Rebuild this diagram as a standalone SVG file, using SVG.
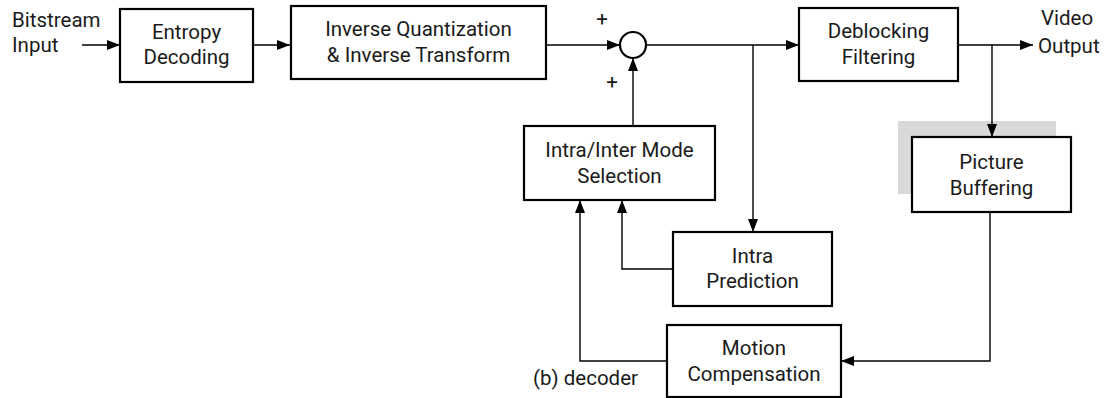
<svg xmlns="http://www.w3.org/2000/svg" width="1107" height="398" viewBox="0 0 1107 398">
  <style>
    .box { fill: #ffffff; stroke: #000000; stroke-width: 2.2; }
    .wire { fill: none; stroke: #000000; stroke-width: 1.4; }
    .lbl { font-family: Roboto, "Liberation Sans", sans-serif; font-size: 20.5px; fill: #1a1a1a; }
    .mid { text-anchor: middle; }
  </style>
  <defs>
    <marker id="arrow" viewBox="0 0 13 10" refX="13" refY="5" markerWidth="13" markerHeight="10" markerUnits="userSpaceOnUse" orient="auto">
      <path d="M0,0 L13,5 L0,10 Z" fill="#000000"/>
    </marker>
  </defs>

  <rect x="0" y="0" width="1107" height="398" fill="#ffffff"/>

  <!-- shaded backdrop behind the buffer block -->
  <rect x="898" y="121" width="158" height="73" fill="#d9d9d9"/>

  <g id="connectors">
    <line class="wire" x1="82" y1="45" x2="120" y2="45" marker-end="url(#arrow)"/>
    <line class="wire" x1="253" y1="45" x2="290" y2="45" marker-end="url(#arrow)"/>
    <line class="wire" x1="546" y1="45" x2="620" y2="45" marker-end="url(#arrow)"/>
    <line class="wire" x1="646" y1="45" x2="799" y2="45" marker-end="url(#arrow)"/>
    <line class="wire" x1="753" y1="45" x2="753" y2="232" marker-end="url(#arrow)"/>
    <line class="wire" x1="633" y1="126" x2="633" y2="58" marker-end="url(#arrow)"/>
    <polyline class="wire" points="673,269 622,269 622,200" marker-end="url(#arrow)"/>
    <polyline class="wire" points="667,361 580,361 580,200" marker-end="url(#arrow)"/>
    <line class="wire" x1="958" y1="45" x2="1033" y2="45" marker-end="url(#arrow)"/>
    <line class="wire" x1="992" y1="45" x2="992" y2="137" marker-end="url(#arrow)"/>
    <polyline class="wire" points="990,212 990,361 841,361" marker-end="url(#arrow)"/>
  </g>

  <g id="input-label">
    <text class="lbl" x="12" y="27">Bitstream</text>
    <text class="lbl" x="12" y="52">Input</text>
  </g>

  <g id="entropy-decoding">
    <rect class="box" x="120" y="9" width="133" height="73"/>
    <text class="lbl mid" x="186.5" y="39">Entropy</text>
    <text class="lbl mid" x="186.5" y="64">Decoding</text>
  </g>

  <g id="inverse-quant-transform">
    <rect class="box" x="291" y="6" width="255" height="73"/>
    <text class="lbl mid" x="418.5" y="36">Inverse Quantization</text>
    <text class="lbl mid" x="418.5" y="62">&amp; Inverse Transform</text>
  </g>

  <g id="summer">
    <circle class="box" cx="633" cy="45" r="13"/>
    <text class="lbl mid" x="602" y="26">+</text>
    <text class="lbl mid" x="612" y="89">+</text>
  </g>

  <g id="deblocking-filtering">
    <rect class="box" x="799" y="8" width="159" height="73"/>
    <text class="lbl mid" x="878.5" y="38">Deblocking</text>
    <text class="lbl mid" x="878.5" y="64">Filtering</text>
  </g>

  <g id="output-label">
    <text class="lbl" x="1041" y="25">Video</text>
    <text class="lbl" x="1038" y="53">Output</text>
  </g>

  <g id="mode-selection">
    <rect class="box" x="524" y="126" width="191" height="74"/>
    <text class="lbl mid" x="619.5" y="157">Intra/Inter Mode</text>
    <text class="lbl mid" x="619.5" y="183">Selection</text>
  </g>

  <g id="picture-buffering">
    <rect class="box" x="912" y="137" width="159" height="75"/>
    <text class="lbl mid" x="991.5" y="169">Picture</text>
    <text class="lbl mid" x="991.5" y="195">Buffering</text>
  </g>

  <g id="intra-prediction">
    <rect class="box" x="673" y="232" width="159" height="74"/>
    <text class="lbl mid" x="752.5" y="263">Intra</text>
    <text class="lbl mid" x="752.5" y="288">Prediction</text>
  </g>

  <g id="motion-compensation">
    <rect class="box" x="667" y="325" width="174" height="72"/>
    <text class="lbl mid" x="754" y="355">Motion</text>
    <text class="lbl mid" x="754" y="381">Compensation</text>
  </g>

  <g id="caption">
    <text class="lbl" x="533" y="385">(b) decoder</text>
  </g>
</svg>
